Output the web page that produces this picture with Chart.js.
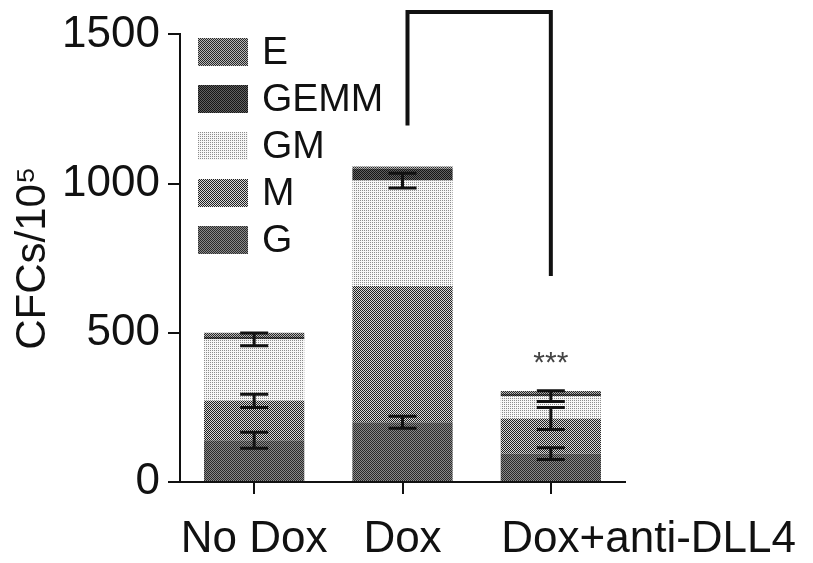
<!DOCTYPE html>
<html>
<head>
<meta charset="utf-8">
<script src="https://cdn.jsdelivr.net/npm/chart.js@4.4.0/dist/chart.umd.min.js"></script>
<style>
  body { margin: 0; background: #fff; }
  #wrap { width: 813px; height: 563px; }
</style>
</head>
<body>
<div id="wrap"><canvas id="chart1" width="813" height="563"></canvas></div>
<script>
const categories = ["No Dox", "Dox", "Dox+anti-DLL4"];
const seriesNames = ["G", "M", "GM", "GEMM", "E"];
const valuesG = [140, 200, 95];
const valuesM = [132, 457, 118];
const valuesGM = [206, 353, 75];
const valuesGEMM = [8, 40, 7];
const valuesE = [14, 7, 10];
const errG = [27, 20, 20];
const errM = [22, null, 37];
const errGM = [21, 25, 18];
const yTicks = [0, 500, 1000, 1500];
const bracketLevels = [1195, 1575, 690]; // left leg end, top, right leg end
const starsLevel = 420;

// dithered looking fills
function makePattern(cells) {
  const n = cells.length;
  const c = document.createElement("canvas");
  c.width = n; c.height = n;
  const g = c.getContext("2d");
  for (let r = 0; r < n; r++) {
    for (let k = 0; k < n; k++) {
      g.fillStyle = cells[r][k];
      g.fillRect(k, r, 1, 1);
    }
  }
  return g.createPattern(c, "repeat");
}
const ctx = document.getElementById("chart1").getContext("2d");
const fills = [
  makePattern([["#2a2a2a", "#8a8a8a"], ["#8a8a8a", "#2a2a2a"]]), // G
  makePattern([["#202020", "#d8d8d8"], ["#d8d8d8", "#202020"]]), // M
  makePattern([["#8c8c8c", "#f6f6f6"], ["#f6f6f6", "#f6f6f6"]]), // GM
  makePattern([["#151515", "#606060"], ["#606060", "#151515"]]), // GEMM
  makePattern([["#282828", "#b8b8b8"], ["#b8b8b8", "#282828"]]), // E
];
const allValues = [valuesG, valuesM, valuesGM, valuesGEMM, valuesE];

const extras = {
  id: "extras",
  afterDatasetsDraw(chart) {
    const c = chart.ctx;
    const x = chart.scales.x, y = chart.scales.y;
    const errs = [errG, errM, errGM];
    c.save();
    // error bars
    c.strokeStyle = "#111";
    c.lineWidth = 3;
    categories.forEach((cat, i) => {
      let top = 0;
      errs.forEach((e, s) => {
        top += chart.data.datasets[s].data[i];
        if (e[i] == null) return;
        const px = x.getPixelForValue(i);
        const y1 = y.getPixelForValue(top + e[i]);
        const y2 = y.getPixelForValue(top - e[i]);
        c.beginPath();
        c.moveTo(px, y1); c.lineTo(px, y2);
        c.moveTo(px - 14, y1); c.lineTo(px + 14, y1);
        c.moveTo(px - 14, y2); c.lineTo(px + 14, y2);
        c.stroke();
      });
    });
    // significance bracket
    const xl = x.getPixelForValue(1) + 5, xr = x.getPixelForValue(2);
    c.lineWidth = 4;
    c.strokeStyle = "#111";
    c.lineJoin = "miter";
    c.beginPath();
    c.moveTo(xl, y.getPixelForValue(bracketLevels[0]));
    c.lineTo(xl, y.getPixelForValue(bracketLevels[1]));
    c.lineTo(xr, y.getPixelForValue(bracketLevels[1]));
    c.lineTo(xr, y.getPixelForValue(bracketLevels[2]));
    c.stroke();
    c.fillStyle = "#444";
    c.font = "30px 'Liberation Sans'";
    c.textAlign = "center";
    c.textBaseline = "middle";
    c.fillText("***", x.getPixelForValue(2), y.getPixelForValue(starsLevel) + 7);
    // legend, top series first
    c.font = "39px 'Liberation Sans'";
    c.textAlign = "left";
    const ds = chart.data.datasets.slice().reverse();
    ds.forEach((d, r) => {
      const cy = 52 + r * 47;
      c.fillStyle = d.backgroundColor;
      c.fillRect(198, cy - 14, 50, 28);
      c.fillStyle = "#111";
      c.fillText(d.label, 262, cy + 1);
    });
    c.restore();
  }
};

new Chart(ctx, {
  type: "bar",
  data: {
    labels: categories,
    datasets: seriesNames.map((name, s) => ({
      label: name,
      data: allValues[s],
      backgroundColor: fills[s],
      borderWidth: 0,
      categoryPercentage: 1,
      barPercentage: 0.676,
    })),
  },
  options: {
    responsive: false,
    animation: false,
    layout: { padding: { left: 0, right: 188, top: 33, bottom: 0 } },
    plugins: { legend: { display: false }, tooltip: { enabled: false } },
    scales: {
      x: {
        stacked: true,
        grid: { display: true, drawOnChartArea: false, color: "#111", lineWidth: 2, tickLength: 12, offset: false },
        border: { display: true, color: "#111", width: 2 },
        ticks: {
          color: "#111",
          font: { family: "Liberation Sans", size: 44 },
          padding: 19,
          maxRotation: 0,
          autoSkip: false,
          // last label sits to the right of its tick in the original
          callback: (v, i) => (i === 2 ? " ".repeat(16) : "") + categories[i],
        },
        afterFit(scale) {
          scale.height = 81;
          scale.paddingLeft = 0;
          scale.paddingRight = 0;
        },
      },
      y: {
        stacked: true,
        min: 0,
        max: 1500,
        afterBuildTicks(scale) { scale.ticks = yTicks.map((v) => ({ value: v })); },
        grid: { display: true, drawOnChartArea: false, color: "#111", lineWidth: 2, tickLength: 12 },
        border: { display: true, color: "#111", width: 2 },
        ticks: { color: "#111", font: { family: "Liberation Sans", size: 44 }, padding: 8, callback: (v) => String(v) },
        title: { display: true, text: "CFCs/10⁵", color: "#111", font: { family: "Liberation Sans", size: 42 }, padding: { top: 8, bottom: 0 } },
        afterFit(scale) { scale.width = 180; },
      },
    },
  },
  plugins: [extras],
});
</script>
</body>
</html>
